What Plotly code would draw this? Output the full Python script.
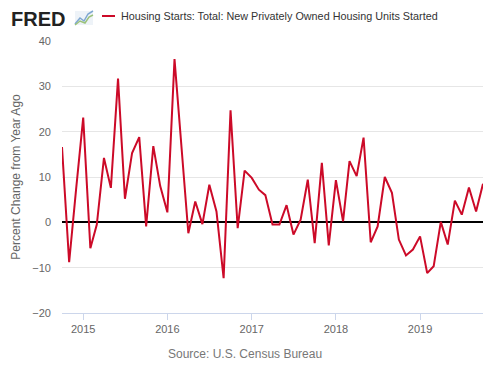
import pandas as pd
import plotly.graph_objects as go

start_month = "2014-10-01"
n_months = 61
dates = pd.date_range(start_month, periods=n_months, freq="MS")
pct_change = [16.6, -8.8, 7.2, 23.1, -5.7, -0.5, 14.2, 7.6, 31.7, 5.2,
              15.3, 18.8, -0.9, 16.8, 8.0, 2.2, 36.0, 16.8, -2.4, 4.6,
              -0.4, 8.3, 2.4, -12.3, 24.7, -1.3, 11.4, 9.8, 7.2, 6.0,
              -0.5, -0.5, 3.8, -2.7, 0.6, 9.4, -4.6, 13.1, -5.1, 9.3,
              0.2, 13.5, 10.2, 18.7, -4.4, -0.9, 10.0, 6.5, -3.8, -7.3,
              -6.0, -3.1, -11.2, -9.7, 0.1, -4.9, 4.8, 1.7, 7.7, 2.4, 8.5]
year_ticks = ["2015-01-01", "2016-01-01", "2017-01-01", "2018-01-01", "2019-01-01"]
year_labels = ["2015", "2016", "2017", "2018", "2019"]
y_ticks = [-20, -10, 0, 10, 20, 30, 40]

series_name = "Housing Starts: Total: New Privately Owned Housing Units Started"
line_color = "#cc0a28"
font_family = "Liberation Sans, Arial, sans-serif"

fig = go.Figure()
fig.add_trace(go.Scatter(x=dates, y=pct_change, mode="lines",
                         line=dict(color=line_color, width=2),
                         name=series_name, showlegend=False))

# page body has an 8px default margin; compensate so the plot lands at
# window pixels x 62..483, y 41..313
OFF = 8
W, H = 500 - OFF, 375 - OFF
L, R, T, B = 62 - OFF, 17, 41 - OFF, 62
pw, ph = W - L - R, H - T - B


def px(x):
    return (x - OFF - L) / pw


def py(y):
    return (H - B - (y - OFF)) / ph


fig.update_layout(
    width=W, height=H,
    margin=dict(l=L, r=R, t=T, b=B, autoexpand=False),
    paper_bgcolor="white", plot_bgcolor="white",
    font=dict(family=font_family, color="#666666", size=11),
    xaxis=dict(range=[dates[0], dates[-1]], tickvals=year_ticks, ticktext=year_labels,
               automargin=False,
               showgrid=False, showline=True, linecolor="#ccd6eb", linewidth=1,
               ticks="outside", ticklen=6, tickcolor="#ccd6eb",
               tickfont=dict(size=11, color="#666666"), zeroline=False),
    yaxis=dict(range=[-20, 40], tickvals=y_ticks, showgrid=True, automargin=False,
               gridcolor="#e6e6e6", gridwidth=1, zeroline=True,
               zerolinecolor="#000000", zerolinewidth=2, ticks="",
               ticklabelstandoff=10,
               tickfont=dict(size=11, color="#666666"),
               title=dict(text="Percent Change from Year Ago",
                          font=dict(size=12, color="#666666"), standoff=9)),
)

# header: FRED logo
fig.add_annotation(xref="paper", yref="paper", x=px(9), y=py(19), xanchor="left",
                   yanchor="middle", text="<b>FRED</b>", showarrow=False,
                   font=dict(family="Liberation Sans, Arial", size=20, color="#222222"))
# small logo chart icon
fig.add_shape(type="rect", xref="paper", yref="paper", x0=px(75), x1=px(93),
              y0=py(25), y1=py(11), line=dict(width=0), fillcolor="#eef3f8")
fig.add_shape(type="path", xref="paper", yref="paper",
              path=f"M {px(75)},{py(24)} L {px(80)},{py(18)} L {px(84)},{py(21)} L {px(88)},{py(14)} L {px(93)},{py(11)}",
              line=dict(color="#7fa7d1", width=1.5))
fig.add_shape(type="path", xref="paper", yref="paper",
              path=f"M {px(75)},{py(25)} L {px(80)},{py(21)} L {px(85)},{py(23)} L {px(89)},{py(17)} L {px(93)},{py(15)}",
              line=dict(color="#9bc27a", width=1.5))

# legend swatch + text
fig.add_shape(type="line", xref="paper", yref="paper", x0=px(102), x1=px(115),
              y0=py(16), y1=py(16), line=dict(color=line_color, width=2))
fig.add_annotation(xref="paper", yref="paper", x=px(119), y=py(16), xanchor="left",
                   yanchor="middle", text=series_name, showarrow=False,
                   font=dict(size=10.8, color="#333333"))

# source
fig.add_annotation(xref="paper", yref="paper", x=px(245), y=py(354), xanchor="center",
                   yanchor="middle", text="Source: U.S. Census Bureau", showarrow=False,
                   font=dict(size=12, color="#777777"))

fig.write_html("out.html")
